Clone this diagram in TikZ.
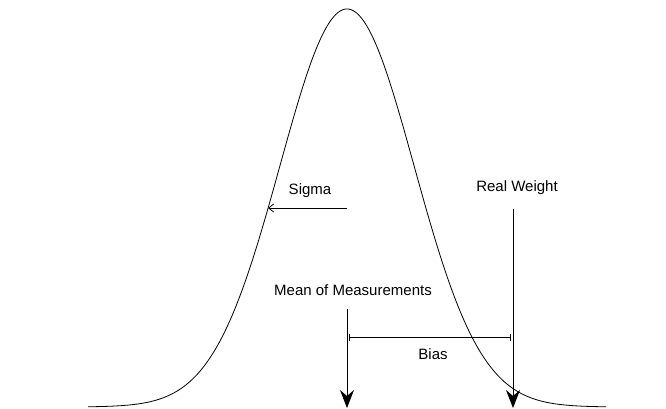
\documentclass[tikz,border=0pt]{standalone}
\usepackage{fontspec}
\setmainfont{Liberation Sans}
\usetikzlibrary{arrows.meta}
\begin{document}
\begin{tikzpicture}[x=1pt,y=-1pt,
  lbl/.style={font=\fontsize{15}{18}\selectfont, inner sep=0pt},
  bigarrow/.style={line width=0.8pt, -{Stealth[length=18pt,width=14pt,inset=6pt]}},
  thinarrow/.style={line width=0.8pt, -{Straight Barb[length=5pt,width=8pt]}},
  dimline/.style={line width=0.8pt, {Bar[width=7pt]}-{Bar[width=7pt]}}]
\useasboundingbox (0,0) rectangle (666,408);
\draw[line width=0.8pt, samples=200, domain=88:606, smooth]
  plot (\x, {407-398*exp(-0.5*((\x-347)/67)^2)});
\node[lbl] (sigma) at (310,191) {Sigma};
\node[lbl] (real) at (517,188) {Real Weight};
\node[lbl] (mean) at (353,290) {Mean of Measurements};
\node[lbl] (bias) at (433,354) {Bias};
\coordinate (s1) at (347,208);
\coordinate (s2) at (268,208);
\coordinate (m1) at (347,309);
\coordinate (m2) at (347,408);
\coordinate (r1) at (513,209);
\coordinate (r2) at (513,408);
\coordinate (b1) at (349,337.5);
\coordinate (b2) at (511,337.5);
\draw[thinarrow] (s1) -- (s2);
\draw[bigarrow] (m1) -- (m2);
\draw[bigarrow] (r1) -- (r2);
\draw[dimline] (b1) -- (b2);
\end{tikzpicture}
\end{document}
